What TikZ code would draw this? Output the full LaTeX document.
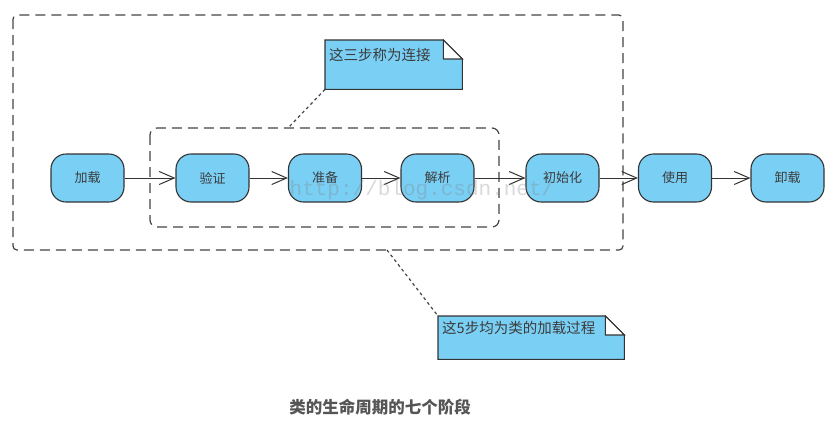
\documentclass[tikz,border=0pt]{standalone}
\usepackage{fontspec}
\newfontfamily\cjk{Noto Sans CJK SC}
\newfontfamily\wmfont{Liberation Mono}
\usetikzlibrary{arrows.meta,calc}
\definecolor{nodeblue}{RGB}{122,207,245}
\definecolor{edgegray}{RGB}{51,51,51}
\definecolor{dashgray}{RGB}{68,68,68}
\definecolor{txtgray}{RGB}{60,60,60}
\definecolor{capgray}{RGB}{85,85,85}
\tikzset{
  stage/.style={draw=edgegray, fill=nodeblue, line width=1.1pt, rounded corners=15pt,
    minimum width=73pt, minimum height=48pt, inner sep=0pt,
    font=\cjk\fontsize{13}{15}\selectfont, text=txtgray},
  flow/.style={draw=edgegray, line width=1pt,
    -{Straight Barb[length=15pt,width=13pt,line width=1pt]}},
  groupbox/.style={draw=dashgray, line width=1.2pt, dash pattern=on 10pt off 6pt},
  notetext/.style={anchor=north west, inner xsep=4pt, inner ysep=7pt, align=left,
    text height=13.5pt, font=\cjk\fontsize{14.5}{16}\selectfont, text=txtgray},
  noteshape/.style={draw=edgegray, fill=nodeblue, line width=1.1pt},
  dotlink/.style={draw=dashgray, line width=1.2pt, dash pattern=on 3pt off 3pt}
}
\begin{document}
\begin{tikzpicture}[x=1pt,y=-1pt]
\useasboundingbox (0,0) rectangle (836,429);

% group boxes
\draw[groupbox, rounded corners=4pt] (13,15) rectangle (623,250);
\draw[groupbox, rounded corners=7pt] (150,128) rectangle (499,227);
\coordinate (outerbot) at (387,250);
\coordinate (innertop) at (288,128);

% stages
\node[stage] (load) at (87.5,178) {加载};
\node[stage] (verify) at (212.5,178) {验证};
\node[stage] (prep) at (325,178) {准备};
\node[stage] (resolve) at (437.5,178) {解析};
\node[stage] (init) at (562.5,178) {初始化};
\node[stage] (use) at (675,178) {使用};
\node[stage] (unload) at (787.5,178) {卸载};

\draw[flow] (load) -- (verify);
\draw[flow] (verify) -- (prep);
\draw[flow] (prep) -- (resolve);
\draw[flow] (resolve) -- (init);
\draw[flow] (init) -- (use);
\draw[flow] (use) -- (unload);

% note 1
\node[notetext, text width=129pt, text depth=21.5pt] (note1) at (325,40) {这三步称为连接};
\fill[nodeblue] (note1.north west) -- ($(note1.north east)+(-19,0)$) -- ($(note1.north east)+(0,19)$) -- (note1.south east) -- (note1.south west) -- cycle;
\node[notetext, text width=129pt, text depth=21.5pt] at (325,40) {这三步称为连接};
\draw[edgegray, line width=1.1pt] (note1.north west) -- ($(note1.north east)+(-19,0)$) -- ($(note1.north east)+(0,19)$) -- (note1.south east) -- (note1.south west) -- cycle;
\draw[edgegray, line width=1.1pt, fill=white] ($(note1.north east)+(-19,0)$) -- ($(note1.north east)+(-19,19)$) -- ($(note1.north east)+(0,19)$) -- cycle;
\draw[dotlink] (note1.south west) -- (innertop);

% note 2
\node[notetext, text width=178pt, text depth=21.5pt, inner ysep=4pt] (note2) at (438,316) {这5步均为类的加载过程};
\fill[nodeblue] (note2.north west) -- ($(note2.north east)+(-19,0)$) -- ($(note2.north east)+(0,19)$) -- (note2.south east) -- (note2.south west) -- cycle;
\node[notetext, text width=178pt, text depth=21.5pt, inner ysep=4pt] at (438,316) {这5步均为类的加载过程};
\draw[edgegray, line width=1.1pt] (note2.north west) -- ($(note2.north east)+(-19,0)$) -- ($(note2.north east)+(0,19)$) -- (note2.south east) -- (note2.south west) -- cycle;
\draw[edgegray, line width=1.1pt, fill=white] ($(note2.north east)+(-19,0)$) -- ($(note2.north east)+(-19,19)$) -- ($(note2.north east)+(0,19)$) -- cycle;
\draw[dotlink] (outerbot) -- (note2.north west);

% watermark
\node[text=gray, opacity=0.3, font=\wmfont\fontsize{21}{24}\selectfont] (wm) at (422,190) {http://blog.csdn.net/};

% caption
\node[font=\cjk\bfseries\fontsize{16.5}{19}\selectfont, text=capgray] (caption) at (380,407) {类的生命周期的七个阶段};
\end{tikzpicture}
\end{document}
